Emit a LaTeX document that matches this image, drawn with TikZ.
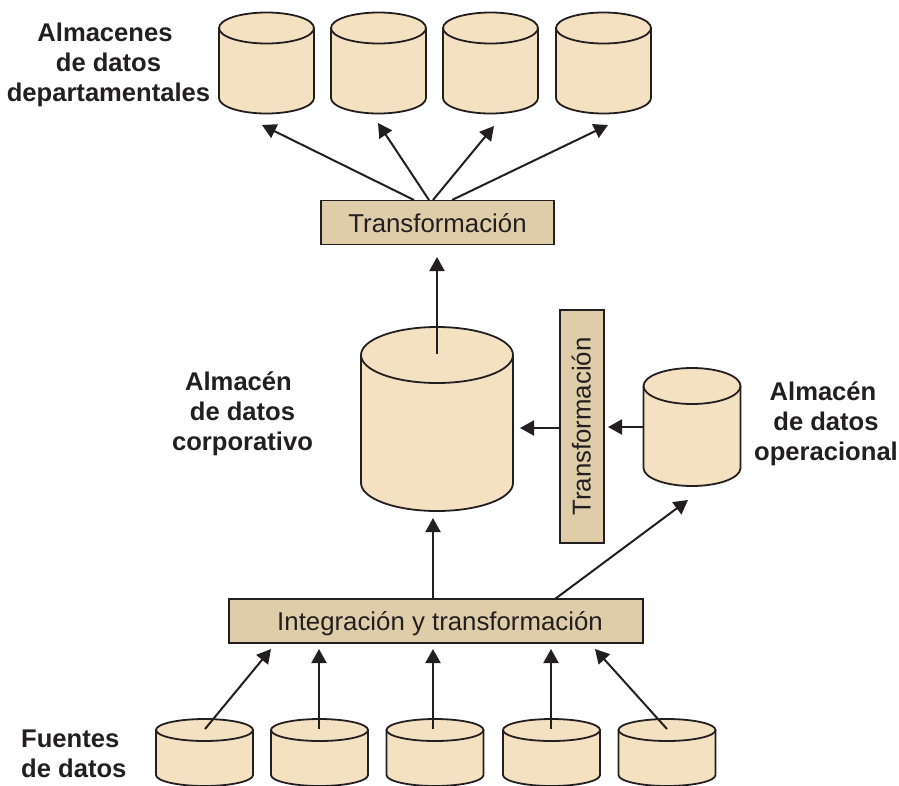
\documentclass[tikz,border=0pt]{standalone}
\usepackage{fontspec}
\setmainfont{Liberation Sans}
\usetikzlibrary{arrows.meta}
\definecolor{cylfill}{HTML}{F4E1C1}
\definecolor{boxfill}{HTML}{DFCDA9}
\definecolor{ink}{HTML}{231F20}
\tikzset{
  cylbody/.style={draw=ink,fill=cylfill,line width=1.8pt,line join=round},
  procbox/.style={draw=ink,fill=boxfill,line width=1.9pt,inner sep=0pt,text=ink,
    font=\fontsize{25.8}{30}\selectfont},
  tag/.style={align=center,text=ink,inner sep=0pt,font=\fontsize{25.6}{29.8}\selectfont\bfseries},
  flow/.style={draw=ink,line width=2pt,-{Triangle[length=14pt,width=15pt]}},
}
% name, centre x, top-ellipse centre y, bottom-ellipse centre y, rx, ry
\newcommand{\cylshape}[6]{%
  \draw[cylbody] (#2-#5,#3) -- (#2-#5,#4) arc[start angle=180,end angle=0,x radius=#5,y radius=#6]
     -- (#2+#5,#3) -- cycle;
  \draw[cylbody] (#2,#3) ellipse[x radius=#5,y radius=#6];
  \coordinate (#1) at (#2,#3);
}
\newcommand{\lowered}[2]{\raisebox{-#1pt}[0pt][0pt]{#2}}
\begin{document}
\begin{tikzpicture}[x=1pt,y=-1pt]
\useasboundingbox (0,0) rectangle (899,785);
% top row
\cylshape{d1}{266.5}{28}{98}{47.5}{15.5}
\cylshape{d2}{378.5}{28}{98}{47.5}{15.5}
\cylshape{d3}{490.5}{28}{98}{47.5}{15.5}
\cylshape{d4}{603.5}{28}{98}{47.5}{15.5}
% middle
\cylshape{corp}{437}{355}{483}{76}{28}
\cylshape{oper}{692}{386}{468}{48.5}{18}
% bottom row
\cylshape{s1}{204.5}{730}{775}{48.5}{11}
\cylshape{s2}{319.5}{730}{775}{48.5}{11}
\cylshape{s3}{435}{730}{775}{48.5}{11}
\cylshape{s4}{551.5}{730}{775}{48.5}{11}
\cylshape{s5}{667}{730}{775}{48.5}{11}
% boxes
\node[procbox,minimum width=233pt,minimum height=44pt] (tt) at (437.5,222.5) {\lowered{9.5}{Transformación}};
\node[procbox,rotate=90,minimum width=233pt,minimum height=44pt] (tv) at (582,426.5) {\lowered{8.5}{Transformación}};
\node[procbox,minimum width=414pt,minimum height=44pt] (ti) at (436,621) {\hspace*{8pt}\lowered{9}{Integración y transformación}};
% labels
\node[tag] (l1) at (108.5,65) {Almacenes\hspace*{7pt}\\de datos\hspace*{7pt}\\departamentales};
\node[tag] (l2) at (242.5,414) {\hspace*{-8pt}Almacén\\de datos\\corporativo};
\node[tag] (l3) at (826,424) {Almacén\hspace*{6pt}\\de datos\hspace*{6pt}\\operacional};
\node[tag,align=left,anchor=west] (l4) at (21,754) {Fuentes\\de datos};
% arrow ends
\coordinate (a1) at (262,125);
\coordinate (a2) at (378,123);
\coordinate (a3) at (494,126);
\coordinate (a4) at (608,125);
\coordinate (b1) at (414,200);
\coordinate (b2) at (429,200);
\coordinate (b3) at (433,200);
\coordinate (b4) at (452,200);
\coordinate (c1) at (437,257);
\coordinate (c2) at (437,354);
\coordinate (e1) at (433,518);
\coordinate (e2) at (433,599);
\coordinate (f1) at (688,500);
\coordinate (f2) at (555,599);
\coordinate (g1) at (520,428);
\coordinate (g2) at (560,428);
\coordinate (h1) at (608,427);
\coordinate (h2) at (643,427);
\coordinate (i1) at (271,649);
\coordinate (i2) at (319,649);
\coordinate (i3) at (433,649);
\coordinate (i4) at (551,649);
\coordinate (i5) at (595,649);
\coordinate (j1) at (205,729);
\coordinate (j2) at (319,729);
\coordinate (j3) at (433,729);
\coordinate (j4) at (551,729);
\coordinate (j5) at (667,729);
% connectors
\draw[flow] (b1) -- (a1);
\draw[flow] (b2) -- (a2);
\draw[flow] (b3) -- (a3);
\draw[flow] (b4) -- (a4);
\draw[flow] (c2) -- (c1);
\draw[flow] (e2) -- (e1);
\draw[flow] (f2) -- (f1);
\draw[flow] (g2) -- (g1);
\draw[flow] (h2) -- (h1);
\draw[flow] (j1) -- (i1);
\draw[flow] (j2) -- (i2);
\draw[flow] (j3) -- (i3);
\draw[flow] (j4) -- (i4);
\draw[flow] (j5) -- (i5);
\end{tikzpicture}
\end{document}
